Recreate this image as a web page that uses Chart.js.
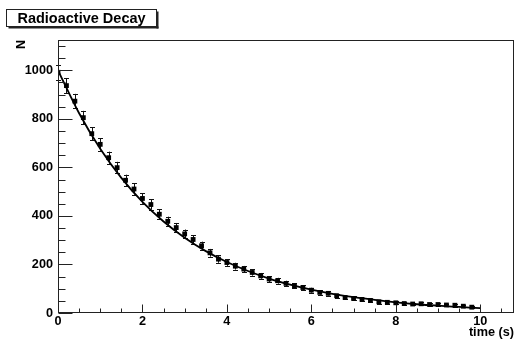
<!DOCTYPE html>
<html>
<head>
<meta charset="utf-8">
<script src="https://cdn.jsdelivr.net/npm/chart.js@4/dist/chart.umd.min.js"></script>
<style>
  html, body { margin: 0; padding: 0; background: #fff; }
  #wrap { width: 518px; height: 340px; position: relative; }
</style>
</head>
<body>
<div id="wrap"><canvas id="c" width="518" height="340"></canvas></div>
<script>
// ---- data ----
const titleText = "Radioactive Decay";
const xTitle = "time (s)";
const yTitle = "N";
const times = [0,0.2,0.4,0.6,0.8,1.0,1.2,1.4,1.6,1.8,2.0,2.2,2.4,2.6,2.8,3.0,3.2,3.4,3.6,3.8,
               4.0,4.2,4.4,4.6,4.8,5.0,5.2,5.4,5.6,5.8,6.0,6.2,6.4,6.6,6.8,7.0,7.2,7.4,7.6,7.8,
               8.0,8.2,8.4,8.6,8.8,9.0,9.2,9.4,9.6,9.8];
const counts = [992,937,873,805,739,695,640,599,547,511,472,447,407,378,352,326,303,277,248,222,
                208,193,181,167,153,140,133,122,112,105,94,85,81,71,64,60,56,52,46,44,
                42,39,37,38,35,35,33,32,28,24];
const errors = [31,31,30,28,27,26,25,24,23,23,22,21,20,19,19,18,17,17,16,15,
                14,14,13,13,12,12,12,11,11,10,10,9,9,8,8,8,7,7,7,7,
                6,6,6,6,6,6,6,6,5,5];
const fitTimes = [0,0.5,1,1.5,2,2.5,3,3.5,4,4.5,5,5.5,6,6.5,7,7.5,8,8.5,9,9.5,10];
const fitValues = [1000,823,677,557,458,377,310,255,210,173,142,117,96,79,65,54,44,36,30,25,20];
const xTickValues = [0,2,4,6,8,10];
const yTickValues = [0,200,400,600,800,1000];

const FONT = "'Liberation Sans', Arial, Helvetica, sans-serif";

const pointsData = times.map((t, i) => ({x: t, y: counts[i]}));
const fitData = fitTimes.map((t, i) => ({x: t, y: fitValues[i]}));

const frameAndDecor = {
  id: 'frameAndDecor',
  beforeDatasetsDraw(chart) {
    const {ctx, chartArea: a, scales: {x, y}} = chart;
    ctx.save();
    // error bars
    ctx.strokeStyle = '#111';
    ctx.lineWidth = 1;
    ctx.beginPath();
    times.forEach((t, i) => {
      const px = Math.round(x.getPixelForValue(t)) + 0.5;
      const yt = y.getPixelForValue(counts[i] + errors[i]);
      const yb = y.getPixelForValue(counts[i] - errors[i]);
      ctx.moveTo(px, yt); ctx.lineTo(px, yb);
      ctx.moveTo(px - 2.5, Math.round(yt) + 0.5); ctx.lineTo(px + 2.5, Math.round(yt) + 0.5);
      ctx.moveTo(px - 2.5, Math.round(yb) + 0.5); ctx.lineTo(px + 2.5, Math.round(yb) + 0.5);
    });
    ctx.stroke();
    ctx.restore();
  },
  afterDraw(chart) {
    const {ctx, chartArea: a, scales: {x, y}} = chart;
    ctx.save();
    ctx.strokeStyle = '#222';
    ctx.lineWidth = 1;
    // frame
    ctx.strokeRect(Math.round(a.left) + 0.5, Math.round(a.top) + 0.5,
                   Math.round(a.right - a.left) - 1, Math.round(a.bottom - a.top) - 1);
    const yb = Math.round(a.bottom) - 0.5;
    const xl = Math.round(a.left) + 0.5;
    ctx.beginPath();
    // x ticks (inward)
    for (let v = 0; v <= x.max + 1e-9; v += 0.5) {
      const px = Math.round(x.getPixelForValue(v)) + 0.5;
      const major = Math.abs(v / 2 - Math.round(v / 2)) < 1e-6;
      ctx.moveTo(px, yb); ctx.lineTo(px, yb - (major ? 8 : 4));
    }
    // y ticks (inward)
    for (let v = 0; v <= y.max + 1e-9; v += 50) {
      const py = Math.round(y.getPixelForValue(v)) + 0.5;
      const major = v % 200 === 0;
      ctx.moveTo(xl, py); ctx.lineTo(xl + (major ? 14 : 7), py);
    }
    ctx.stroke();
    // title box
    const bx = 6.5, by = 9.5, bw = 150, bh = 17;
    ctx.fillStyle = '#222';
    ctx.fillRect(bx + 2, by + bh, bw, 2);
    ctx.fillRect(bx + bw, by + 2, 2, bh);
    ctx.fillStyle = '#fff';
    ctx.fillRect(bx, by, bw, bh);
    ctx.strokeStyle = '#222';
    ctx.strokeRect(bx, by, bw, bh);
    ctx.fillStyle = '#000';
    ctx.font = "bold 14.5px " + FONT;
    ctx.textAlign = 'center';
    ctx.textBaseline = 'alphabetic';
    ctx.fillText(titleText, bx + bw / 2, 22.5);
    ctx.restore();
  }
};

new Chart(document.getElementById('c'), {
  type: 'scatter',
  data: {
    datasets: [
      {
        type: 'line',
        data: fitData,
        borderColor: '#000',
        borderWidth: 1.8,
        pointRadius: 0,
        fill: false,
        cubicInterpolationMode: 'monotone',
        order: 2
      },
      {
        type: 'scatter',
        data: pointsData,
        pointStyle: 'rect',
        pointRadius: 3.4,
        backgroundColor: '#000',
        borderColor: '#000',
        borderWidth: 0,
        order: 1
      }
    ]
  },
  options: {
    responsive: false,
    animation: false,
    devicePixelRatio: 1,
    layout: { padding: { left: 0, right: 1, top: 40, bottom: 0 } },
    plugins: { legend: { display: false }, tooltip: { enabled: false }, title: { display: false } },
    scales: {
      x: {
        type: 'linear', min: 0, max: 10.8,
        afterFit: s => { s.height = 27; },
        afterBuildTicks: s => { s.ticks = xTickValues.map(v => ({value: v})); },
        grid: { display: false, drawTicks: false },
        border: { display: false },
        ticks: { color: '#000', font: { family: FONT, size: 12.7, weight: 'bold' }, padding: 1, maxRotation: 0, autoSkip: false, includeBounds: false,
                 callback: v => String(v) },
        title: { display: true, text: xTitle, align: 'end', color: '#000', font: { family: FONT, size: 12.7, weight: 'bold' }, padding: 0 }
      },
      y: {
        type: 'linear', min: 0, max: 1125,
        afterFit: s => { s.width = 58; },
        afterBuildTicks: s => { s.ticks = yTickValues.map(v => ({value: v})); },
        grid: { display: false, drawTicks: false },
        border: { display: false },
        ticks: { color: '#000', font: { family: FONT, size: 12.7, weight: 'bold' }, padding: 5, autoSkip: false, includeBounds: false,
                 callback: v => String(v) },
        title: { display: true, text: yTitle, align: 'end', color: '#000', font: { family: FONT, size: 12.5, weight: 'bold' }, padding: { top: 14.5, bottom: 0 } }
      }
    }
  },
  plugins: [frameAndDecor]
});
</script>
</body>
</html>
